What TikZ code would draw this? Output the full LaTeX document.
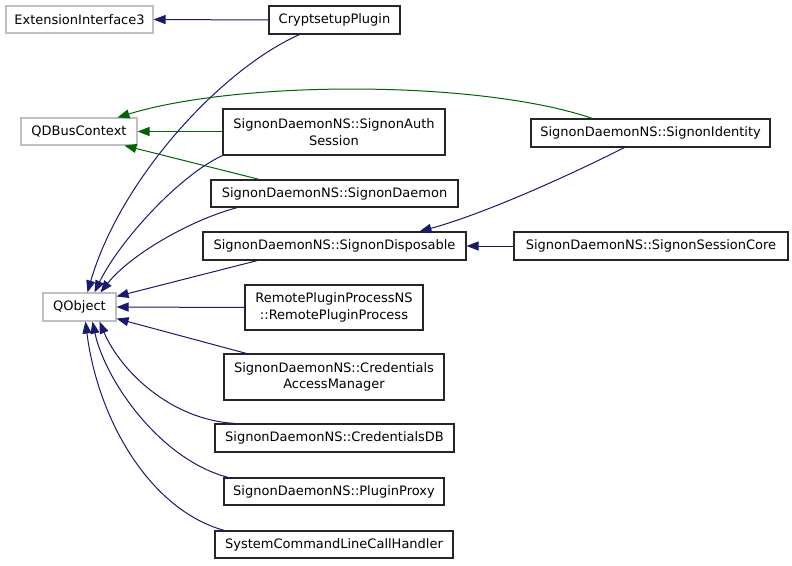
\documentclass[tikz,border=0pt]{standalone}
\usepackage{fontspec}
\setmainfont{DejaVu Sans}
\usetikzlibrary{arrows.meta,calc}
\definecolor{edgeblue}{HTML}{191970}
\definecolor{edgegreen}{HTML}{006400}
\definecolor{extgray}{HTML}{BFBFBF}
\tikzset{
  cls/.style={draw=black!85, line width=1.1pt, fill=white, inner sep=0pt, align=center,
    font=\fontsize{13}{16.7}\selectfont},
  extcls/.style={cls, draw=extgray},
  pub/.style={draw=edgeblue, line width=1pt, -{Triangle[length=12pt,width=9pt]}},
  prot/.style={draw=edgegreen, line width=1pt, -{Triangle[length=12pt,width=9pt]}},
}
\begin{document}
\begin{tikzpicture}[x=1pt,y=-1pt]
\fill[white] (0,0) rectangle (792,565);
\useasboundingbox (0,0) rectangle (792,565);

% nodes
\node[extcls, minimum width=147pt, minimum height=27pt] (ext) at (79.5,19.5) {ExtensionInterface3};
\node[cls, minimum width=131pt, minimum height=28pt] (cp) at (334.5,20) {CryptsetupPlugin};
\node[extcls, minimum width=116pt, minimum height=27pt] (qdbus) at (79,131.5) {QDBusContext};
\node[cls, minimum width=222pt, minimum height=46pt] (auth) at (334,132) {SignonDaemonNS::SignonAuth\\Session};
\node[cls, minimum width=239pt, minimum height=28pt] (ident) at (650.5,133) {SignonDaemonNS::SignonIdentity};
\node[cls, minimum width=247pt, minimum height=27pt] (daemon) at (334.5,193.5) {SignonDaemonNS::SignonDaemon};
\node[cls, minimum width=263pt, minimum height=28pt] (disp) at (334.5,246) {SignonDaemonNS::SignonDisposable};
\node[cls, minimum width=274pt, minimum height=28pt] (core) at (651,246) {SignonDaemonNS::SignonSessionCore};
\node[extcls, minimum width=73pt, minimum height=28pt] (qobj) at (79.5,307) {QObject};
\node[cls, minimum width=178pt, minimum height=45pt] (rpp) at (334,307.5) {RemotePluginProcessNS\\::RemotePluginProcess};
\node[cls, minimum width=220pt, minimum height=46pt] (cam) at (334,377) {SignonDaemonNS::Credentials\\AccessManager};
\node[cls, minimum width=239pt, minimum height=28pt] (cdb) at (334.5,438) {SignonDaemonNS::CredentialsDB};
\node[cls, minimum width=220pt, minimum height=27pt] (pp) at (334,491.5) {SignonDaemonNS::PluginProxy};
\node[cls, minimum width=238pt, minimum height=27pt] (sys) at (334,544.5) {SystemCommandLineCallHandler};

% edges
\draw[pub] (cp.west) -- (ext.east);
\draw[pub] ($(cp.south west)+(31,0)$) .. controls (220,70) and (120,180) .. ($(qobj.north west)+(45,0)$);
\draw[prot] ($(ident.north west)+(62,0)$) .. controls (480,80) and (240,80) .. ($(qdbus.north west)+(97,0)$);
\draw[prot] (auth.west |- qdbus.east) -- (qdbus.east);
\draw[prot] ($(daemon.north west)+(49,0)$) -- ($(qdbus.south west)+(104,0)$);
\draw[pub] (auth.south west) .. controls (180,175) and (120,240) .. ($(qobj.north west)+(52,0)$);
\draw[pub] ($(daemon.south west)+(27,0)$) .. controls (190,220) and (130,255) .. ($(qobj.north west)+(58,0)$);
\draw[pub] ($(disp.south west)+(55,0)$) -- ($(qobj.north east)+(0,4)$);
\draw[pub] ($(ident.south west)+(94,0)$) .. controls (560,180) and (480,215) .. ($(disp.north west)+(217,0)$);
\draw[pub] (core.west) -- (disp.east);
\draw[pub] (rpp.west) -- (qobj.east);
\draw[pub] ($(cam.north west)+(23,0)$) -- ($(qobj.south east)+(0,-3)$);
\draw[pub] ($(cdb.north west)+(21,0)$) .. controls (170,420) and (120,370) .. ($(qobj.south west)+(57,0)$);
\draw[pub] ($(pp.north west)+(5,0)$) .. controls (160,460) and (105,380) .. ($(qobj.south west)+(50,0)$);
\draw[pub] ($(sys.north west)+(10,0)$) .. controls (150,510) and (98,420) .. ($(qobj.south west)+(43,0)$);
\end{tikzpicture}
\end{document}
